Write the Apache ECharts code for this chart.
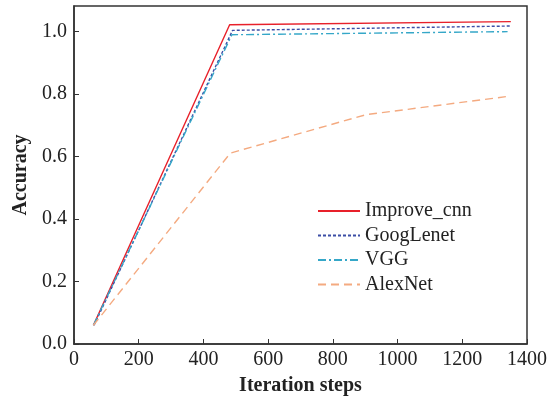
<!DOCTYPE html>
<html>
<head>
<meta charset="utf-8">
<script src="https://cdn.jsdelivr.net/npm/echarts@6/dist/echarts.min.js"></script>
<style>
  html, body { margin: 0; padding: 0; background: #fff; }
  #chart { width: 550px; height: 403px; }
</style>
</head>
<body>
<div id="chart"></div>
<script>
// Accuracy vs. iteration steps for four network models
const seriesNames = ['Improve_cnn', 'GoogLenet', 'VGG', 'AlexNet'];
const improveCnn = [[60, 0.06], [481, 1.022], [1350, 1.032]];
const googLenet  = [[62, 0.06], [490, 1.004], [1352, 1.018]];
const vgg        = [[60, 0.06], [488, 0.99], [1340, 1.0]];
const alexNet    = [[60, 0.06], [483, 0.611], [902, 0.734], [1344, 0.793]];
const xTicks = [0, 200, 400, 600, 800, 1000, 1200, 1400];
const yTicks = [0, 0.2, 0.4, 0.6, 0.8, 1.0];

const font = 'Liberation Serif';
const chart = echarts.init(document.getElementById('chart'));

function lineSeries(name, data, color, type, width) {
  return {
    name: name,
    type: 'line',
    data: data,
    symbol: 'none',
    showSymbol: false,
    smooth: false,
    color: color,
    lineStyle: { color: color, width: width, type: type }
  };
}

chart.setOption({
  animation: false,
  backgroundColor: '#fff',
  grid: {
    left: 74, right: 22, top: 6, bottom: 59,
    show: true, borderColor: '#333', borderWidth: 1.5
  },
  legend: {
    orient: 'vertical',
    left: 312, top: 196,
    itemWidth: 42, itemHeight: 14, itemGap: 4.5,
    data: seriesNames,
    itemStyle: { opacity: 0 },
    textStyle: { fontFamily: font, fontSize: 20, color: '#222' }
  },
  xAxis: {
    type: 'value', min: 0, max: 1400, interval: 200,
    name: 'Iteration steps', nameLocation: 'middle', nameGap: 32,
    nameTextStyle: { fontFamily: font, fontSize: 20, fontWeight: 'bold', color: '#222' },
    axisLine: { show: true, lineStyle: { color: '#333', width: 1.5 } },
    axisTick: { show: true, inside: true, length: 5, lineStyle: { color: '#333' }, customValues: xTicks },
    axisLabel: {
      fontFamily: font, fontSize: 20, color: '#222', margin: 6, customValues: xTicks,
      formatter: v => String(v)
    },
    splitLine: { show: false }
  },
  yAxis: {
    type: 'value', min: 0, max: 1.082,
    name: 'Accuracy', nameLocation: 'middle', nameGap: 43, nameRotate: 90,
    nameTextStyle: { fontFamily: font, fontSize: 20, fontWeight: 'bold', color: '#222' },
    axisLine: { show: true, lineStyle: { color: '#333', width: 1.5 } },
    axisTick: { show: true, inside: true, length: 5, lineStyle: { color: '#333' }, customValues: yTicks },
    axisLabel: {
      fontFamily: font, fontSize: 20, color: '#222', margin: 7, customValues: yTicks,
      formatter: v => v.toFixed(1)
    },
    splitLine: { show: false }
  },
  series: [
    lineSeries('Improve_cnn', improveCnn, '#e8202a', 'solid', 1.4),
    lineSeries('GoogLenet', googLenet, '#3c4ea6', [3, 2], 1.4),
    lineSeries('VGG', vgg, '#35a7c8', [8, 3, 2, 3], 1.4),
    lineSeries('AlexNet', alexNet, '#f4aa80', [8, 5], 1.4)
  ]
});
</script>
</body>
</html>
